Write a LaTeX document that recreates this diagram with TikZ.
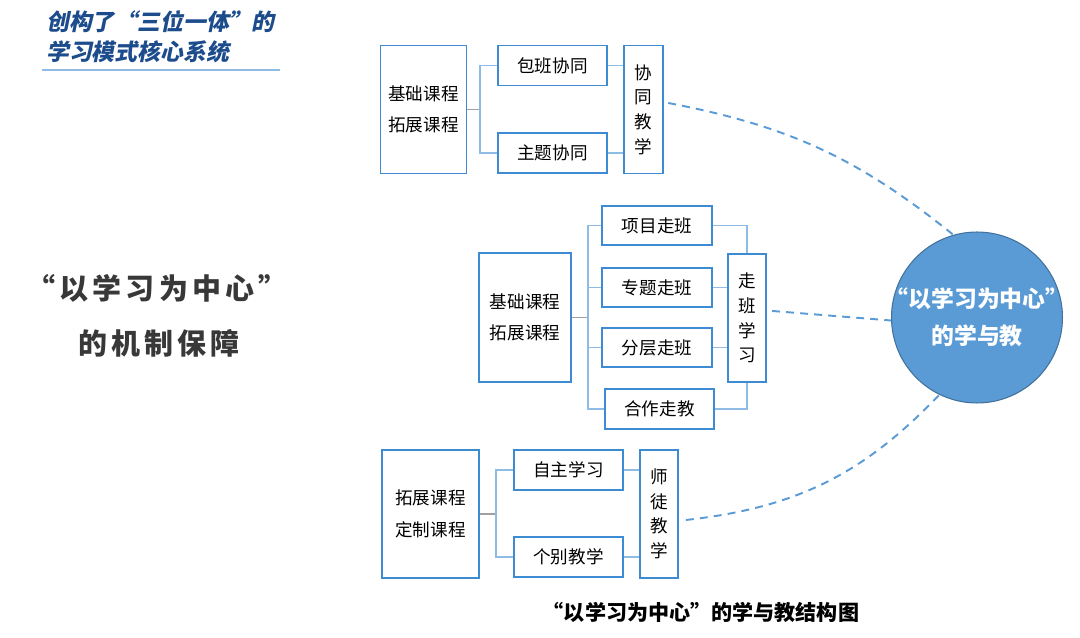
\documentclass[tikz,border=0pt]{standalone}
\usepackage{fontspec}
\setmainfont{Noto Sans CJK SC}
\newfontfamily\titlefont{Noto Sans CJK SC}[FakeSlant=0.2]
\newfontfamily\bigfont{Noto Sans CJK SC}[LetterSpace=14]
\usetikzlibrary{positioning}

\definecolor{boxblue}{HTML}{3D8BD2}
\definecolor{linkblue}{HTML}{8FBCE4}
\definecolor{stubgray}{HTML}{A0A0A0}
\definecolor{dashblue}{HTML}{5B9BD5}
\definecolor{hubfill}{HTML}{5B9BD5}
\definecolor{hubline}{HTML}{41719C}
\definecolor{titleblue}{HTML}{1C4C8C}
\definecolor{darktext}{HTML}{383838}

\tikzset{
    box/.style={draw=boxblue, line width=1pt, fill=white, inner sep=0pt,
        align=center, font=\fontsize{10}{18}\selectfont},
    vbox/.style={box, font=\fontsize{10}{14}\selectfont},
    link/.style={draw=linkblue, line width=0.7pt},
    stub/.style={draw=stubgray, line width=0.7pt},
    dashlink/.style={draw=dashblue, line width=1.1pt, dash pattern=on 4.5pt off 3.5pt},
}

\begin{document}
\begin{tikzpicture}[x=0.02cm, y=-0.02cm]
    \useasboundingbox (0,0) rectangle (1080,638);

    % title in the corner
    \node[anchor=west, text=titleblue, font=\titlefont\bfseries\fontsize{13}{15}\selectfont]
        (title1) at (40,22) {创构了“三位一体”的};
    \node[anchor=west, text=titleblue, font=\titlefont\bfseries\fontsize{13}{15}\selectfont]
        (title2) at (40,52) {学习模式核心系统};
    \coordinate (ruleL) at (42,70);
    \coordinate (ruleR) at (280,70);
    \draw[linkblue, line width=0.8pt] (ruleL) -- (ruleR);

    % left heading
    \node[text=darktext, font=\bigfont\bfseries\fontsize{16.5}{18}\selectfont]
        (head1) at (157,288) {“以学习为中心”};
    \node[text=darktext, font=\bigfont\bfseries\fontsize{16.5}{18}\selectfont]
        (head2) at (159,343) {的机制保障};

    % group 1: xietong jiaoxue
    \node[box, minimum width=1.72cm, minimum height=2.56cm] (g1base) at (423.5,109.5) {基础课程\\拓展课程};
    \node[box, minimum width=2.18cm, minimum height=0.8cm] (g1a) at (552.5,65.5) {包班协同};
    \node[box, minimum width=2.18cm, minimum height=0.8cm] (g1b) at (552.5,153) {主题协同};
    \node[vbox, minimum width=0.78cm, minimum height=2.56cm] (g1v) at (643.5,109.5) {协\\同\\教\\学};
    \coordinate (g1j) at (480,109.5);
    \draw[stub] (g1base.east) -- (g1j);
    \draw[link] (g1a.west) -| (g1j) |- (g1b.west);
    \draw[link] (g1a.east) -- (g1a.east -| g1v.west);
    \draw[link] (g1b.east) -- (g1b.east -| g1v.west);

    % group 2: zouban xuexi
    \node[box, minimum width=1.84cm, minimum height=2.58cm] (g2base) at (525,317.5) {基础课程\\拓展课程};
    \node[box, minimum width=2.2cm, minimum height=0.78cm] (g2a) at (657,225.5) {项目走班};
    \node[box, minimum width=2.2cm, minimum height=0.78cm] (g2b) at (657,287.5) {专题走班};
    \node[box, minimum width=2.2cm, minimum height=0.78cm] (g2c) at (657,347.5) {分层走班};
    \node[box, minimum width=2.18cm, minimum height=0.8cm] (g2d) at (659.5,409) {合作走教};
    \node[vbox, minimum width=0.76cm, minimum height=2.56cm] (g2v) at (747,318) {走\\班\\学\\习};
    \coordinate (g2j) at (588,317.5);
    \draw[stub] (g2base.east) -- (g2j);
    \draw[link] (g2a.west) -| (g2j) |- (g2d.west);
    \draw[link] (g2b.west) -- (g2b.west -| g2j);
    \draw[link] (g2c.west) -- (g2c.west -| g2j);
    \draw[link] (g2a.east) -| (g2v.north);
    \draw[link] (g2d.east) -| (g2v.south);
    \draw[link] (g2b.east) -- (g2b.east -| g2v.west);
    \draw[link] (g2c.east) -- (g2c.east -| g2v.west);

    % group 3: shitu jiaoxue
    \node[box, minimum width=1.94cm, minimum height=2.56cm] (g3base) at (430.5,514) {拓展课程\\定制课程};
    \node[box, minimum width=2.18cm, minimum height=0.8cm] (g3a) at (568.5,470) {自主学习};
    \node[box, minimum width=2.18cm, minimum height=0.8cm] (g3b) at (568.5,557) {个别教学};
    \node[vbox, minimum width=0.76cm, minimum height=2.56cm] (g3v) at (659,514) {师\\徒\\教\\学};
    \coordinate (g3j) at (496,514);
    \draw[stub] (g3base.east) -- (g3j);
    \draw[link] (g3a.west) -| (g3j) |- (g3b.west);
    \draw[link] (g3a.east) -- (g3a.east -| g3v.west);
    \draw[link] (g3b.east) -- (g3b.east -| g3v.west);

    % hub
    \node[circle, fill=hubfill, draw=hubline, line width=0.6pt, inner sep=0pt,
        minimum size=3.42cm] (hub) at (977,317.5) {};
    \node[text=white, align=center, font=\bfseries\fontsize{13}{21}\selectfont]
        (hubtext) at (hub.center) {“以学习为中心”\\的学与教};

    \draw[dashlink] ([xshift=2.5pt,yshift=3.7pt]g1v.east) to[bend left=14] (hub.106);
    \draw[dashlink] ([xshift=3pt,yshift=4pt]g2v.east) -- (hub.182);
    \draw[dashlink] ([xshift=4pt,yshift=-3.4pt]g3v.east) to[bend right=20] (hub.244);

    % caption
    \node[font=\bfseries\fontsize{12}{14}\selectfont] (caption) at (701,612)
        {“以学习为中心”的学与教结构图};
\end{tikzpicture}
\end{document}
